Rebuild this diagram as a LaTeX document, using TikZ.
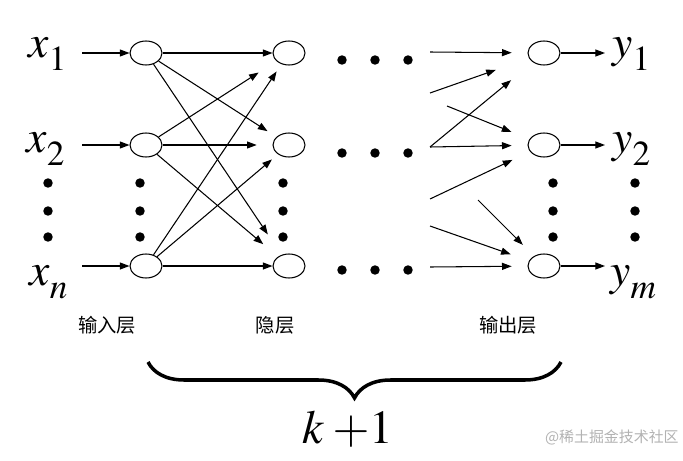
\documentclass[tikz,border=0pt]{standalone}
\usepackage{mathptmx}
\usepackage[no-math]{fontspec}
\newfontfamily\cjk{Noto Sans CJK SC}
\usepackage{tikz}
\usetikzlibrary{shapes, arrows.meta, positioning, calc, decorations.pathreplacing}
\newcommand{\varsub}[2]{$#1$\raisebox{-7.5pt}{\fontsize{20}{20}\selectfont$#2$}}

\begin{document}
\begin{tikzpicture}[x=0.02cm, y=-0.02cm,
  neuron/.style={draw, ellipse, minimum width=0.64cm, minimum height=0.48cm, inner sep=0pt, line width=0.6pt},
  link/.style={-{Triangle[length=5.5pt, width=4pt]}, line width=0.6pt},
  var/.style={anchor=base west, inner sep=0pt, font=\fontsize{26}{26}\selectfont},
  layer/.style={font=\cjk\fontsize{11}{11}\selectfont, inner sep=0pt}
]
\useasboundingbox (0,0) rectangle (683,460);

% Layers
\foreach \n/\y in {1/53, 2/145, 3/266} {
  \node[neuron] (in\n) at (146,\y) {};
  \node[neuron] (h\n) at (289,\y) {};
  \node[neuron] (o\n) at (544,\y) {};
}

% Inputs and outputs
\node[var] (x1) at (28,57) {\varsub{x}{1}};
\node[var] (x2) at (26,152) {\varsub{x}{2}};
\node[var] (xn) at (29,285) {\varsub{x}{n}};
\node[var] (y1) at (612,57) {\varsub{y}{1}};
\node[var] (y2) at (612,152) {\varsub{y}{2}};
\node[var] (ym) at (610,285) {\varsub{y}{m}};

\foreach \n/\y in {1/53, 2/145, 3/266} {
  \coordinate (a\n) at (82,\y);
  \coordinate (b\n) at (605,\y);
  \draw[link] (a\n) -- (in\n);
  \draw[link] (o\n) -- (b\n);
}

% Input -> hidden
\foreach \a/\b/\s in {
  in1/h1/0pt, in1/h2/6pt, in1/h3/14pt,
  in2/h1/12pt, in2/h2/9pt, in2/h3/11pt,
  in3/h1/5pt, in3/h2/4.5pt, in3/h3/0pt
} {
  \draw[link, shorten >=\s] (\a) -- (\b);
}

% Last hidden -> output
\coordinate (s1) at (430,52);
\coordinate (s2) at (430,93);
\coordinate (s3) at (430,147);
\coordinate (s4) at (447,106);
\coordinate (s5) at (430,199);
\coordinate (s6) at (478,200);
\coordinate (s7) at (430,226);
\coordinate (s8) at (430,267);
\foreach \a/\b/\s in {
  s1/o1/9pt, s2/o1/20pt, s3/o1/16pt,
  s4/o2/11pt, s3/o2/9pt, s5/o2/11pt,
  s6/o3/9pt, s7/o3/11pt, s8/o3/9pt
} {
  \draw[link, shorten >=\s] (\a) -- (\b);
}

% Dots
\foreach \x in {48, 140, 283, 553, 635}
  \foreach \y in {183, 211, 237}
    \fill (\x,\y) circle[radius=2.7pt];
\foreach \x in {342, 375, 408}
  \foreach \y in {60, 153, 270}
    \fill (\x,\y) circle[radius=2.7pt];

% Labels below
\node[layer] (lin) at (107,325) {输入层};
\node[layer] (lhid) at (275,325) {隐层};
\node[layer] (lout) at (508,325) {输出层};

% Brace
\draw[decorate, decoration={brace, mirror, amplitude=0.72cm}, line width=2pt] (148,362) -- (561,362);
\node[anchor=base, inner sep=0pt, font=\fontsize{27}{27}\selectfont] (depth) at (348,443) {$k\mkern3mu{+}1$};

\node[anchor=east, inner sep=0pt, text=gray!60, font=\cjk\fontsize{8.5}{8.5}\selectfont] (mark) at (679,437) {@稀土掘金技术社区};
\end{tikzpicture}
\end{document}
